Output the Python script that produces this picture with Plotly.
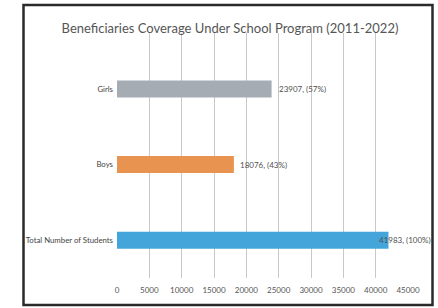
import plotly.graph_objects as go

categories = ["Total Number of Students", "Boys", "Girls"]
values = [41983, 18076, 23907]
percents = ["100%", "43%", "57%"]
colors = ["#44a5da", "#e8934f", "#a6acb4"]
label_shift = [-11, 4, 5]
tick_vals = [0, 5000, 10000, 15000, 20000, 25000, 30000, 35000, 40000, 45000]

FONT = "Lato, Roboto, sans-serif"

fig = go.Figure()
fig.add_trace(go.Bar(
    y=categories, x=values, orientation="h",
    marker=dict(color=colors, line=dict(width=0)),
    width=0.225, hoverinfo="skip",
))

for c, v, p, s in zip(categories, values, percents, label_shift):
    fig.add_annotation(x=v, y=c, text=f"{v}, ({p})", showarrow=False,
                       xanchor="left", yanchor="middle", xshift=s,
                       font=dict(family=FONT, size=8, color="#505050"))

# outer frame
fig.add_shape(type="rect", xref="paper", yref="paper",
              x0=(23.5 - 117) / 291, x1=(432.5 - 117) / 291,
              y0=(278 - 305) / 245, y1=(278 - 5) / 245,
              line=dict(color="#2a2a2a", width=2.5), fillcolor="rgba(0,0,0,0)",
              layer="below")

fig.update_layout(
    width=438, height=308,
    margin=dict(l=117, r=30, t=33, b=30, autoexpand=False),
    paper_bgcolor="white", plot_bgcolor="white",
    showlegend=False,
    title=dict(text="Beneficiaries Coverage Under School Program (2011-2022)",
               x=230 / 438, xanchor="center", y=1 - 28 / 308, yanchor="middle",
               font=dict(family=FONT, size=13, color="#555555")),
    xaxis=dict(range=[0, 45000], tickvals=tick_vals,
               ticktext=[str(t) for t in tick_vals],
               showgrid=True, gridcolor="#c8c8c8", gridwidth=1,
               zeroline=False, showline=False, ticks="",
               tickfont=dict(family=FONT, size=8, color="#555555"),
               ticklabelstandoff=6),
    yaxis=dict(categoryorder="array", categoryarray=categories,
               range=[-0.5, 2.74], showgrid=False, zeroline=False,
               showline=False, ticks="",
               tickfont=dict(family=FONT, size=7.8, color="#444444"),
               ticklabelstandoff=3),
)

fig.write_html("out.html", config={"displayModeBar": False},
               post_script="document.body.style.margin='0';")
